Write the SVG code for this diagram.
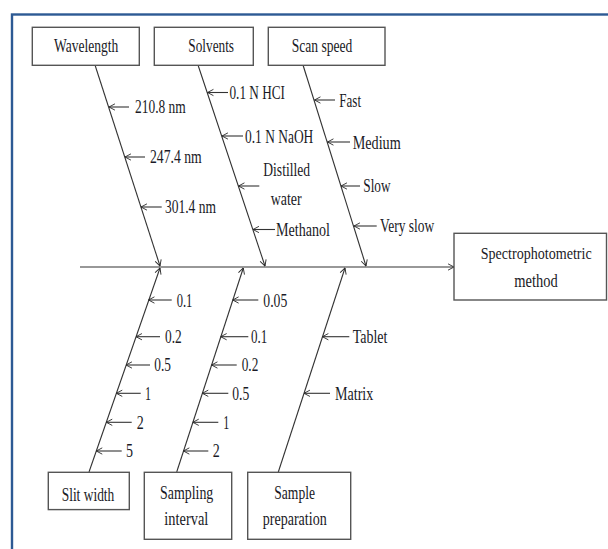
<svg xmlns="http://www.w3.org/2000/svg" width="608" height="549" viewBox="0 0 608 549">
<defs>
<marker id="ah" viewBox="0 0 10 10" refX="9.5" refY="5" markerWidth="7" markerHeight="9" markerUnits="userSpaceOnUse" orient="auto">
<path d="M1,0.5 L9.5,5 L1,9.5" fill="none" stroke="#2a2a2a" stroke-width="1.3"/>
</marker>
</defs>
<style>
text{font-family:"Liberation Serif","Times New Roman",serif;font-size:18.5px;fill:#1a1a26}
.box{fill:#fff;stroke:#555;stroke-width:1.4}
.ln{stroke:#333;stroke-width:1.1;fill:none}
.arr{stroke:#333;stroke-width:1.1;fill:none;marker-end:url(#ah)}
</style>
<rect x="0" y="0" width="608" height="549" fill="#fff"/>
<rect x="12" y="14.5" width="640" height="580" fill="none" stroke="#2d5a94" stroke-width="2.4"/>

<g id="connectors">
<line class="arr" x1="80" y1="267" x2="454" y2="267"/>
<line class="arr" x1="95" y1="65" x2="160" y2="266"/>
<line class="arr" x1="198" y1="65" x2="265" y2="266"/>
<line class="arr" x1="303" y1="65" x2="366" y2="266"/>
<line class="arr" x1="89" y1="472" x2="160" y2="268"/>
<line class="arr" x1="176.7" y1="472" x2="243.3" y2="268"/>
<line class="arr" x1="278.3" y1="472" x2="345" y2="268"/>
<line class="arr" x1="129" y1="107" x2="109" y2="107"/>
<line class="arr" x1="145" y1="157" x2="125" y2="157"/>
<line class="arr" x1="161.7" y1="207" x2="141" y2="207"/>
<line class="arr" x1="228" y1="92.5" x2="207.5" y2="92.5"/>
<line class="arr" x1="243" y1="136" x2="222" y2="136"/>
<line class="arr" x1="259.3" y1="186" x2="238.5" y2="186"/>
<line class="arr" x1="275" y1="229.5" x2="253" y2="229.5"/>
<line class="arr" x1="335" y1="100" x2="314.5" y2="100"/>
<line class="arr" x1="350" y1="142" x2="327.5" y2="142"/>
<line class="arr" x1="360" y1="186" x2="341" y2="186"/>
<line class="arr" x1="376.7" y1="226" x2="354" y2="226"/>
<line class="arr" x1="171.7" y1="300" x2="148.5" y2="300"/>
<line class="arr" x1="160" y1="336.7" x2="136" y2="336.7"/>
<line class="arr" x1="150" y1="365" x2="126" y2="365"/>
<line class="arr" x1="140.7" y1="393.3" x2="116.3" y2="393.3"/>
<line class="arr" x1="131.7" y1="422.3" x2="106.3" y2="422.3"/>
<line class="arr" x1="121.7" y1="451" x2="96.3" y2="451"/>
<line class="arr" x1="258.3" y1="300" x2="232.7" y2="300"/>
<line class="arr" x1="248.3" y1="336.7" x2="220.7" y2="336.7"/>
<line class="arr" x1="236.7" y1="365" x2="211.5" y2="365"/>
<line class="arr" x1="228.3" y1="393.3" x2="202.3" y2="393.3"/>
<line class="arr" x1="218.3" y1="422.3" x2="192.8" y2="422.3"/>
<line class="arr" x1="208.3" y1="451" x2="183.4" y2="451"/>
<line class="arr" x1="349.3" y1="336.7" x2="322.4" y2="336.7"/>
<line class="arr" x1="330" y1="393.3" x2="304" y2="393.3"/>
</g>

<g id="labels">
<text x="135" y="112.5" textLength="50.7" lengthAdjust="spacingAndGlyphs">210.8 nm</text>
<text x="150" y="163" textLength="51.7" lengthAdjust="spacingAndGlyphs">247.4 nm</text>
<text x="165" y="212.5" textLength="51" lengthAdjust="spacingAndGlyphs">301.4 nm</text>
<text x="229.5" y="99" textLength="55.5" lengthAdjust="spacingAndGlyphs">0.1 N HCI</text>
<text x="245" y="142.5" textLength="68.3" lengthAdjust="spacingAndGlyphs">0.1 N NaOH</text>
<text x="263.3" y="175.5" textLength="46.7" lengthAdjust="spacingAndGlyphs">Distilled</text>
<text x="270.7" y="205" textLength="31" lengthAdjust="spacingAndGlyphs">water</text>
<text x="276" y="235.5" textLength="54" lengthAdjust="spacingAndGlyphs">Methanol</text>
<text x="339.3" y="106.5" textLength="21.7" lengthAdjust="spacingAndGlyphs">Fast</text>
<text x="352.7" y="148.5" textLength="48" lengthAdjust="spacingAndGlyphs">Medium</text>
<text x="363.3" y="191.5" textLength="27.3" lengthAdjust="spacingAndGlyphs">Slow</text>
<text x="380" y="232" textLength="54.3" lengthAdjust="spacingAndGlyphs">Very slow</text>
<text x="176.7" y="306.5" textLength="15.7" lengthAdjust="spacingAndGlyphs">0.1</text>
<text x="165" y="343" textLength="16.7" lengthAdjust="spacingAndGlyphs">0.2</text>
<text x="154.3" y="371" textLength="16.7" lengthAdjust="spacingAndGlyphs">0.5</text>
<text x="145" y="399.5" textLength="6" lengthAdjust="spacingAndGlyphs">1</text>
<text x="136.7" y="428.5" textLength="7" lengthAdjust="spacingAndGlyphs">2</text>
<text x="126" y="457" textLength="7" lengthAdjust="spacingAndGlyphs">5</text>
<text x="263.3" y="306.5" textLength="24" lengthAdjust="spacingAndGlyphs">0.05</text>
<text x="251" y="343" textLength="16.3" lengthAdjust="spacingAndGlyphs">0.1</text>
<text x="241.7" y="371" textLength="16.6" lengthAdjust="spacingAndGlyphs">0.2</text>
<text x="232.3" y="399.5" textLength="17" lengthAdjust="spacingAndGlyphs">0.5</text>
<text x="223.3" y="428.5" textLength="6" lengthAdjust="spacingAndGlyphs">1</text>
<text x="212.7" y="457" textLength="7" lengthAdjust="spacingAndGlyphs">2</text>
<text x="352.7" y="343" textLength="34.7" lengthAdjust="spacingAndGlyphs">Tablet</text>
<text x="335" y="399.5" textLength="38.3" lengthAdjust="spacingAndGlyphs">Matrix</text>
</g>

<g id="wavelength">
<rect class="box" x="32.3" y="27.3" width="107" height="38"/>
<text x="54" y="52" textLength="64.3" lengthAdjust="spacingAndGlyphs">Wavelength</text>
</g>
<g id="solvents">
<rect class="box" x="154.3" y="27.3" width="99" height="38"/>
<text x="188.3" y="52" textLength="45.7" lengthAdjust="spacingAndGlyphs">Solvents</text>
</g>
<g id="scan-speed">
<rect class="box" x="268.3" y="27.3" width="116.7" height="38"/>
<text x="291.7" y="52" textLength="60.6" lengthAdjust="spacingAndGlyphs">Scan speed</text>
</g>
<g id="spectrophotometric-method">
<rect class="box" x="454" y="233.3" width="152.5" height="66.7"/>
<text x="480.7" y="258.5" style="font-size:15.8px" textLength="111" lengthAdjust="spacingAndGlyphs">Spectrophotometric</text>
<text x="536" y="287" text-anchor="middle" textLength="43.4" lengthAdjust="spacingAndGlyphs">method</text>
</g>
<g id="slit-width">
<rect class="box" x="48.3" y="472.3" width="81" height="37.3"/>
<text x="61.7" y="500.5" textLength="52.6" lengthAdjust="spacingAndGlyphs">Slit width</text>
</g>
<g id="sampling-interval">
<rect class="box" x="144.3" y="472.3" width="87.4" height="67"/>
<text x="160" y="499" textLength="53.3" lengthAdjust="spacingAndGlyphs">Sampling</text>
<text x="164.3" y="524.5" textLength="44" lengthAdjust="spacingAndGlyphs">interval</text>
</g>
<g id="sample-preparation">
<rect class="box" x="247.7" y="472.3" width="103" height="67"/>
<text x="274.3" y="499" textLength="40.7" lengthAdjust="spacingAndGlyphs">Sample</text>
<text x="262.7" y="524.5" textLength="64" lengthAdjust="spacingAndGlyphs">preparation</text>
</g>
</svg>
